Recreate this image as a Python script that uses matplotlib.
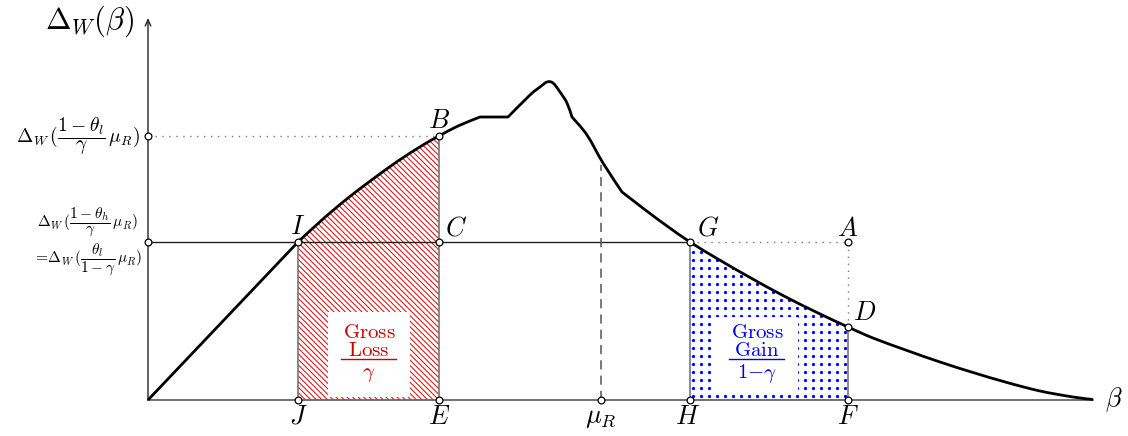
import matplotlib
matplotlib.use("Agg")
import matplotlib.pyplot as plt
import numpy as np
from matplotlib.path import Path
from matplotlib.patches import PathPatch, Rectangle

plt.rcParams.update({
    "mathtext.fontset": "cm",
    "font.family": "serif",
    "hatch.linewidth": 0.7,
})

# welfare curve Delta_W(beta), knots
beta = [0, 150, 175, 200, 225, 250, 275, 291, 310, 332, 360, 382, 392, 399,
        405, 412, 419, 424, 439, 455, 474, 485, 502, 519, 542, 569, 602, 635,
        669, 700, 725, 759, 792, 825, 859, 892, 925, 945]
delta_w = [0, 158, 181, 202, 221, 239, 255, 264, 274, 283, 283, 305, 313, 318,
           317, 308, 297, 283, 265, 237, 208, 199.5, 186.5, 174, 158, 141.5,
           122.5, 104.5, 87.5, 73, 62, 49.5, 38, 27.5, 17.5, 9, 3, 0.5]
# knots where the curve has a corner
corners = [150, 332, 360, 424, 474]

# named abscissae and ordinates
b_J, b_E, b_mu, b_H, b_F = 150, 291, 453, 542, 700
d_B, d_I, d_D = 264, 158, 73
x_end, y_top, mu_top = 945, 382, 235


def bezier_segments(xs, ys, breaks):
    """Cubic segments (p0, c1, c2, p1) of a Catmull-Rom curve through the
    knots, restarted at every corner knot."""
    pts = np.column_stack([xs, ys]).astype(float)
    cut = [0] + [xs.index(b) for b in breaks] + [len(xs) - 1]
    segs = []
    for a, b in zip(cut[:-1], cut[1:]):
        p = pts[a:b + 1]
        n = len(p) - 1
        for i in range(n):
            prev = p[i - 1] if i > 0 else p[i]
            nxt = p[i + 2] if i + 2 <= n else p[i + 1]
            c1 = p[i] + (p[i + 1] - prev) / 6.0
            c2 = p[i + 1] - (nxt - p[i]) / 6.0
            segs.append((p[i], c1, c2, p[i + 1]))
    return segs


def curve_path(segs):
    verts, codes = [segs[0][0]], [Path.MOVETO]
    for _, c1, c2, p1 in segs:
        verts += [c1, c2, p1]
        codes += [Path.CURVE4] * 3
    return Path(verts, codes)


def area_path(segs, x0, x1):
    sub = [s for s in segs if s[0][0] >= x0 and s[3][0] <= x1]
    verts = [(x0, 0), sub[0][0]]
    codes = [Path.MOVETO, Path.LINETO]
    for _, c1, c2, p1 in sub:
        verts += [c1, c2, p1]
        codes += [Path.CURVE4] * 3
    verts += [(x1, 0), (x0, 0)]
    codes += [Path.LINETO, Path.CLOSEPOLY]
    return Path(verts, codes)


segs = bezier_segments(beta, delta_w, corners)

fig = plt.figure(figsize=(11.28, 4.36), dpi=100)
ax = fig.add_axes([0, 0, 1, 1])
ax.set_xlim(-148, 980)
ax.set_ylim(-36, 400)
ax.axis("off")

# gross loss area: red north-west hatching
loss = PathPatch(area_path(segs, b_J, b_E), facecolor="none", edgecolor="#e00000",
                 hatch="\\\\\\\\\\\\", linewidth=0, zorder=1)
ax.add_patch(loss)

# gross gain area: blue dot grid clipped to the area under the curve
gain = PathPatch(area_path(segs, b_H, b_F), facecolor="none", edgecolor="none",
                 linewidth=0, zorder=1)
ax.add_patch(gain)
gx, gy = np.meshgrid(np.arange(b_H + 3, b_F, 8), np.arange(4, d_I, 8))
dots = ax.scatter(gx.ravel(), gy.ravel(), s=5.5, color="#0000ff",
                  linewidths=0, zorder=1)
dots.set_clip_path(gain)

# white caption boxes
ax.add_patch(Rectangle((180, 3), 82, 85, facecolor="white", edgecolor="none", zorder=2))
ax.add_patch(Rectangle((567, 8), 83, 75, facecolor="white", edgecolor="none", zorder=2))

# axes
ax.plot([0, x_end], [0, 0], color="#666666", lw=1.3, zorder=3)
ax.annotate("", xy=(0, y_top), xytext=(0, 0),
            arrowprops=dict(arrowstyle="->,head_length=0.45,head_width=0.2",
                            color="#222222", lw=1.0, shrinkA=0, shrinkB=0), zorder=3)

# guide lines
dotted = dict(color="#777777", lw=1.0, ls=(0, (1, 4)), zorder=3)
ax.plot([0, b_H], [d_I, d_I], color="#222222", lw=1.0, zorder=3)
ax.plot([0, b_E], [d_B, d_B], **dotted)
ax.plot([b_H, b_F], [d_I, d_I], **dotted)
ax.plot([b_F, b_F], [d_D, d_I], **dotted)
for xv, yv in [(b_J, d_I), (b_E, d_B), (b_H, d_I), (b_F, d_D)]:
    ax.plot([xv, xv], [0, yv], color="#777777", lw=1.2, zorder=3)
ax.plot([b_mu, b_mu], [0, mu_top], color="#555555", lw=1.1, ls=(0, (6, 4)), zorder=3)

# the curve
ax.add_patch(PathPatch(curve_path(segs), facecolor="none", edgecolor="black",
                       lw=2.0, joinstyle="round", zorder=4))

# open point markers
pts_x = [0, 0, b_J, b_E, b_E, b_H, b_F, b_F, b_J, b_E, b_mu, b_H, b_F]
pts_y = [d_B, d_I, d_I, d_I, d_B, d_I, d_I, d_D, 0, 0, 0, 0, 0]
ax.scatter(pts_x, pts_y, s=24, facecolor="white", edgecolor="black",
           linewidths=0.9, zorder=5)

# point labels
lab = dict(fontsize=19, zorder=6)
ax.text(b_E, 280, r"$B$", ha="center", va="center", **lab)
ax.text(b_J, 174, r"$I$", ha="center", va="center", **lab)
ax.text(297, 172, r"$C$", ha="left", va="center", **lab)
ax.text(549, 172, r"$G$", ha="left", va="center", **lab)
ax.text(b_F, 172, r"$A$", ha="center", va="center", **lab)
ax.text(705, 88, r"$D$", ha="left", va="center", **lab)
ax.text(b_J, -16, r"$J$", ha="center", va="center", **lab)
ax.text(b_E, -16, r"$E$", ha="center", va="center", **lab)
ax.text(b_mu, -17, r"$\mu_R$", ha="center", va="center", **lab)
ax.text(540, -16, r"$H$", ha="center", va="center", **lab)
ax.text(b_F, -16, r"$F$", ha="center", va="center", **lab)
ax.text(966, 0, r"$\beta$", ha="center", va="center", **lab)
ax.text(-59, 379, r"$\Delta_W(\beta)$", ha="center", va="center", fontsize=22)

# y-axis labels
ax.text(-8, 264, r"$\Delta_W\,(\dfrac{1-\theta_l}{\gamma}\,\mu_R)$",
        ha="right", va="center", fontsize=14)
ax.text(-10, 178, r"$\Delta_W\,(\dfrac{1-\theta_h}{\gamma}\,\mu_R)$",
        ha="right", va="center", fontsize=11)
ax.text(-6, 141, r"$=\!\Delta_W\,(\dfrac{\theta_l}{1-\gamma}\,\mu_R)$",
        ha="right", va="center", fontsize=11)

# area captions
loss_c, gain_c = "#cc0000", "#0000ee"
cap = dict(ha="center", va="center", fontsize=15, zorder=6)
ax.text(221, 68, r"$\mathrm{Gross}$", color=loss_c, **cap)
ax.text(221, 50, r"$\mathrm{Loss}$", color=loss_c, **cap)
ax.plot([193, 248], [41, 41], color=loss_c, lw=1.0, zorder=6)
ax.text(221, 26, r"$\gamma$", color=loss_c, **cap)

ax.text(609, 68, r"$\mathrm{Gross}$", color=gain_c, **cap)
ax.text(609, 50, r"$\mathrm{Gain}$", color=gain_c, **cap)
ax.plot([581, 636], [41, 41], color=gain_c, lw=1.0, zorder=6)
ax.text(609, 27, r"$1{-}\gamma$", color=gain_c, **cap)

fig.savefig("out.png", dpi=100)
